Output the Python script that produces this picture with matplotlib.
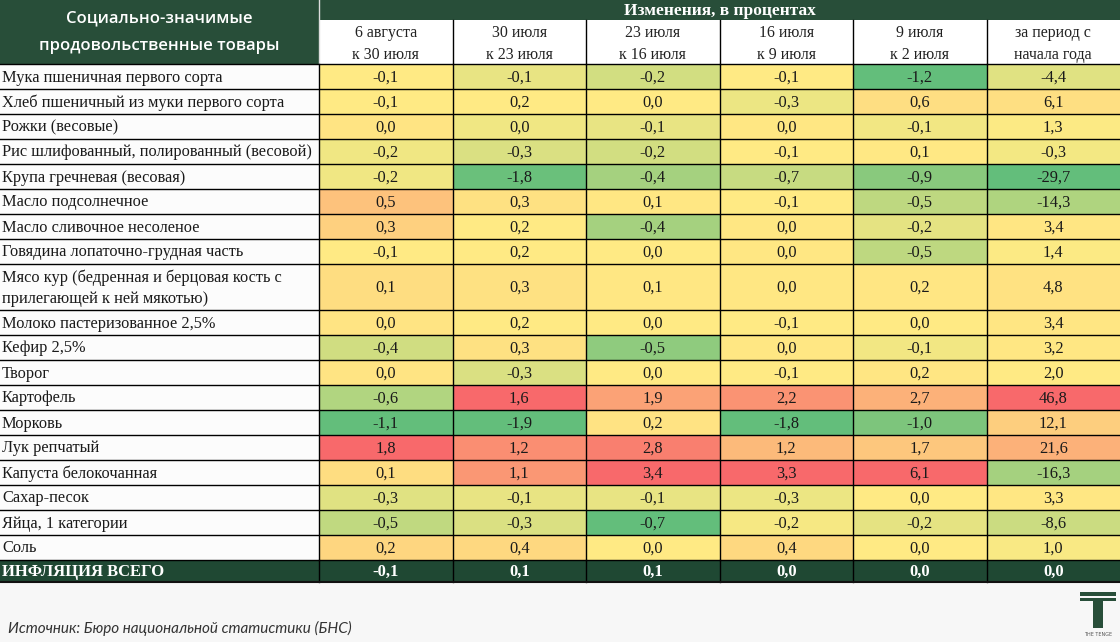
import numpy as np
import matplotlib
matplotlib.use('Agg')
import matplotlib.pyplot as plt
from matplotlib.patches import Rectangle
from matplotlib.colors import LinearSegmentedColormap, TwoSlopeNorm

# products (rows) and period headers (columns)
products = [
    'Мука пшеничная первого сорта',
    'Хлеб пшеничный из муки первого сорта',
    'Рожки (весовые)',
    'Рис шлифованный, полированный (весовой)',
    'Крупа гречневая (весовая)',
    'Масло подсолнечное',
    'Масло сливочное несоленое',
    'Говядина лопаточно-грудная часть',
    'Мясо кур (бедренная и берцовая кость с\nприлегающей к ней мякотью)',
    'Молоко пастеризованное 2,5%',
    'Кефир 2,5%',
    'Творог',
    'Картофель',
    'Морковь',
    'Лук репчатый',
    'Капуста белокочанная',
    'Сахар-песок',
    'Яйца, 1 категории',
    'Соль',
]
periods = ['6 августа\nк 30 июля', '30 июля\nк 23 июля', '23 июля\nк 16 июля',
           '16 июля\nк 9 июля', '9 июля\nк 2 июля', 'за период с\nначала года']

aug6 = [-0.1, -0.1, 0.0, -0.2, -0.2, 0.5, 0.3, -0.1, 0.1, 0.0, -0.4, 0.0, -0.6, -1.1, 1.8, 0.1, -0.3, -0.5, 0.2]
jul30 = [-0.1, 0.2, 0.0, -0.3, -1.8, 0.3, 0.2, 0.2, 0.3, 0.2, 0.3, -0.3, 1.6, -1.9, 1.2, 1.1, -0.1, -0.3, 0.4]
jul23 = [-0.2, 0.0, -0.1, -0.2, -0.4, 0.1, -0.4, 0.0, 0.1, 0.0, -0.5, 0.0, 1.9, 0.2, 2.8, 3.4, -0.1, -0.7, 0.0]
jul16 = [-0.1, -0.3, 0.0, -0.1, -0.7, -0.1, 0.0, 0.0, 0.0, -0.1, 0.0, -0.1, 2.2, -1.8, 1.2, 3.3, -0.3, -0.2, 0.4]
jul9 = [-1.2, 0.6, -0.1, 0.1, -0.9, -0.5, -0.2, -0.5, 0.2, 0.0, -0.1, 0.2, 2.7, -1.0, 1.7, 6.1, 0.0, -0.2, 0.0]
ytd = [-4.4, 6.1, 1.3, -0.3, -29.7, -14.3, 3.4, 1.4, 4.8, 3.4, 3.2, 2.0, 46.8, 12.1, 21.6, -16.3, 3.3, -8.6, 1.0]
inflation = [-0.1, 0.1, 0.1, 0.0, 0.0, 0.0]

columns = [aug6, jul30, jul23, jul16, jul9, ytd]

# colours
green_dark = '#284e39'
green_total = '#1f4833'
bg = '#f7f7f7'
cmap = LinearSegmentedColormap.from_list('ryg', ['#63be7b', '#ffeb84', '#f8696b'])

serif = 'Liberation Serif'

def fmt(v):
    return ('%.1f' % v).replace('.', ',')

W, H = 1120, 642
fig = plt.figure(figsize=(W / 100, H / 100), dpi=100)
fig.patch.set_facecolor(bg)
ax = fig.add_axes([0, 0, 1, 1])
ax.set_xlim(0, W)
ax.set_ylim(H, 0)
ax.axis('off')

# layout
label_w = 319
col_w = (W - label_w) / len(periods)
band_h = 20
sub_h = 44
head_h = band_h + sub_h
row_unit = 25
total_h = 22

# header
ax.add_patch(Rectangle((0, 0), label_w, head_h, color=green_dark, lw=0))
ax.add_patch(Rectangle((label_w, 0), W - label_w, band_h, color=green_dark, lw=0))
ax.add_patch(Rectangle((label_w, band_h), W - label_w, sub_h, color='white', lw=0))
ax.text(label_w / 2, head_h / 2, 'Социально-значимые\nпродовольственные товары',
        ha='center', va='center', color='white', family='Open Sans', weight='semibold',
        fontsize=12, linespacing=2.0)
ax.text(label_w + (W - label_w) / 2, band_h / 2 + 1, 'Изменения, в процентах',
        ha='center', va='center', color='white', family=serif, weight='bold', fontsize=12.5)
ax.plot([label_w, label_w], [0, head_h], color='#dddddd', lw=1)
for j, p in enumerate(periods):
    x0 = label_w + j * col_w
    ax.text(x0 + col_w / 2, band_h + sub_h / 2 + 2, p, ha='center', va='center',
            family=serif, fontsize=11.5, color='#222222', linespacing=1.55)
    if j > 0:
        ax.plot([x0, x0], [band_h, head_h], color='black', lw=1)
ax.plot([0, W], [head_h, head_h], color='black', lw=1)

# body rows
y = head_h
for i, name in enumerate(products):
    h = row_unit * (name.count('\n') + 1) - (4 if '\n' in name else 0)
    ax.add_patch(Rectangle((0, y), label_w, h, color='#fcfcfc', lw=0))
    ax.text(2, y + h / 2 + 1, name, ha='left', va='center', family=serif,
            fontsize=11.8, color='#1a1a1a', linespacing=1.4)
    for j, col in enumerate(columns):
        norm = TwoSlopeNorm(vmin=min(col), vcenter=float(np.median(col)), vmax=max(col))
        x0 = label_w + j * col_w
        ax.add_patch(Rectangle((x0, y), col_w, h, color=cmap(norm(col[i])), lw=0))
        ax.text(x0 + col_w / 2, y + h / 2 + 1, fmt(col[i]), ha='center', va='center',
                family=serif, fontsize=11.8, color='#1a1a1a')
    y += h
    ax.plot([0, W], [y, y], color='black', lw=1)
body_bottom = y
for j in range(len(periods)):
    x0 = label_w + j * col_w
    ax.plot([x0, x0], [head_h, body_bottom], color='black', lw=1)

# total row
ax.add_patch(Rectangle((0, body_bottom), W, total_h, color=green_total, lw=0))
ax.text(2, body_bottom + total_h / 2 + 1, 'ИНФЛЯЦИЯ ВСЕГО', ha='left', va='center',
        family=serif, weight='bold', fontsize=12, color='white')
for j, v in enumerate(inflation):
    x0 = label_w + j * col_w
    ax.plot([x0, x0], [body_bottom, body_bottom + total_h], color='black', lw=1)
    ax.text(x0 + col_w / 2, body_bottom + total_h / 2 + 1, fmt(v), ha='center', va='center',
            family=serif, weight='bold', fontsize=12, color='white')
ax.plot([0, W], [body_bottom + total_h, body_bottom + total_h], color='#111111', lw=1.5)

# source
ax.text(8, 628, 'Источник: Бюро национальной статистики (БНС)', ha='left', va='center',
        family='Lato', style='italic', fontsize=11, color='#333333')

# logo
ax.add_patch(Rectangle((1080, 592), 36, 4, color=green_dark, lw=0))
ax.add_patch(Rectangle((1080, 598), 36, 3, color=green_dark, lw=0))
ax.add_patch(Rectangle((1093, 601), 10, 27, color=green_dark, lw=0))
ax.text(1098, 635, 'THE TENGE', ha='center', va='center', family='DejaVu Sans',
        fontsize=3.5, color='#555555')

plt.savefig('out.png', dpi=100, facecolor=bg)
